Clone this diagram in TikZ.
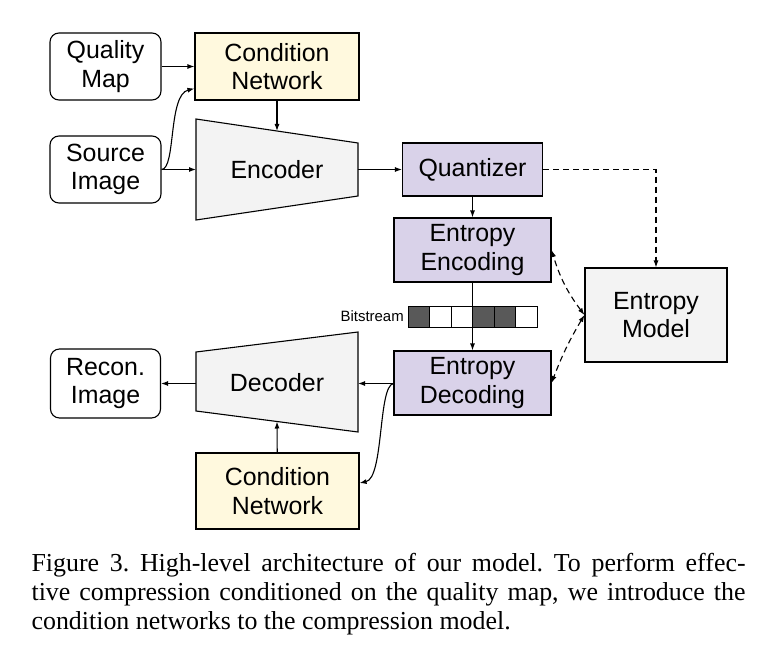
\documentclass[tikz,border=0pt]{standalone}
\usepackage{fontspec}
\setmainfont{Liberation Sans}
\newfontfamily\capfont{Liberation Serif}
\usepackage{tikz}
\usetikzlibrary{arrows.meta}
\definecolor{condyellow}{RGB}{255,249,222}
\definecolor{codecpurple}{RGB}{217,210,233}
\definecolor{blockgray}{RGB}{243,243,243}
\definecolor{bitdark}{RGB}{89,89,89}

\begin{document}
\begin{tikzpicture}[x=1bp,y=-1bp,line width=1.1bp,
  >={Latex[length=7bp,width=5bp]},
  lbl/.style={align=center,inner sep=0pt,font=\fontsize{25}{28.5}\selectfont},
  iobox/.style={lbl,draw,rounded corners=9bp,fill=white},
  condbox/.style={lbl,draw,fill=condyellow},
  codebox/.style={lbl,draw,fill=codecpurple},
  bitcell/.style={draw,line width=0.8bp,minimum width=21.5bp,minimum height=21bp,inner sep=0pt},
  dsh/.style={dash pattern=on 6bp off 4bp}]
  \useasboundingbox[fill=white] (0,0) rectangle (768,660);

  % inputs and top condition network
  \node[iobox,minimum width=111bp,minimum height=67bp] (qmap) at (105.5,66.5) {Quality\\Map};
  \node[iobox,minimum width=111bp,minimum height=67bp] (src) at (105.5,169.5) {Source\\Image};
  \node[condbox,minimum width=164bp,minimum height=67bp] (cond1) at (277,66.5) {Condition\\Network};

  % encoder
  \draw[fill=blockgray] (196,119) -- (358,143) -- (358,196) -- (196,220) -- cycle;
  \node[lbl] (enc) at (277,170) {Encoder};
  \coordinate (encin) at (196,169.5);
  \coordinate (encout) at (358,169.5);
  \coordinate (enctop) at (277,131);

  % coding blocks
  \node[codebox,minimum width=140bp,minimum height=53bp] (quant) at (472.5,169.5) {Quantizer};
  \node[codebox,minimum width=157bp,minimum height=64bp] (eenc) at (472.5,250) {Entropy\\Encoding};
  \node[codebox,minimum width=157bp,minimum height=64bp] (edec) at (472.5,383) {Entropy\\Decoding};
  \node[lbl,draw,fill=blockgray,minimum width=142bp,minimum height=94bp] (emodel) at (656,315) {Entropy\\Model};

  % bitstream
  \foreach \c [count=\i from 0] in {bitdark,white,white,bitdark,bitdark,white}
    \node[bitcell,fill=\c] (bit\i) at (418.75+21.5*\i,316.5) {};
  \node[anchor=east,font=\fontsize{15}{18}\selectfont] (bitlabel) at (bit0.west) {Bitstream};

  % decoder
  \draw[fill=blockgray] (196,352) -- (358,332) -- (358,432) -- (196,411) -- cycle;
  \node[lbl] (dec) at (277,383) {Decoder};
  \coordinate (decin) at (358,383.5);
  \coordinate (decout) at (196,383.5);
  \coordinate (decbot) at (277,421.5);
  \node[iobox,minimum width=110bp,minimum height=69bp] (recon) at (105.5,383.5) {Recon.\\Image};
  \node[condbox,minimum width=163bp,minimum height=76bp] (cond2) at (277.5,491) {Condition\\Network};

  % connectors
  \draw[->] (qmap) -- (cond1);
  \draw[->] (src.east) -- (encin);
  \draw[->] (src.east) .. controls (176,169) and (168,95) .. ([yshift=-22bp]cond1.west);
  \draw[->] (cond1) -- (enctop);
  \draw[->] (encout) -- (quant);
  \draw[->] (quant) -- (eenc);
  \draw[->] (eenc) -- (edec);
  \draw[->,dsh] (quant.east) -| (emodel.north);
  \draw[<->,dsh] (emodel.west) to[bend left=10] (eenc.east);
  \draw[<->,dsh] (emodel.west) to[bend right=5] (edec.east);
  \draw[->] (edec.west |- decin) -- (decin);
  \draw[->] (edec.west |- decin) .. controls (378,386) and (384,478) .. ([yshift=8bp]cond2.east);
  \draw[->] (cond2) -- (decbot);
  \draw[->] (decout) -- (recon);

  % caption
  \node[anchor=north west,text width=714bp,align=justify,inner sep=0pt,
    font=\capfont\fontsize{26}{29}\selectfont\frenchspacing] (caption) at (31,553)
    {Figure 3. High-level architecture of our model. To perform effec-\linebreak
     tive compression conditioned on the quality map, we introduce the\linebreak
     condition networks to the compression model.};
\end{tikzpicture}
\end{document}
